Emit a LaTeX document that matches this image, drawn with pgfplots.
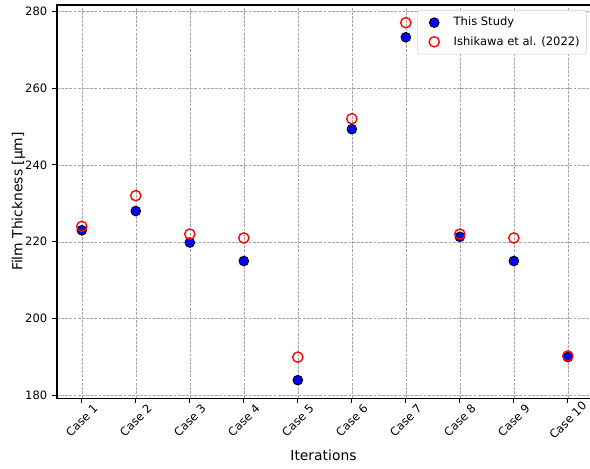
\documentclass[border=0pt]{standalone}
\usepackage{pgfplots}
\pgfplotsset{compat=1.18}
\usepackage{fontspec}
\setmainfont{DejaVu Sans}
\begin{document}
\begin{tikzpicture}
\begin{axis}[
  name=ax,
  scale only axis,
  width=383.8pt, height=283pt,
  xmin=0.54, xmax=10.41,
  ymin=179.35, ymax=281.6,
  xtick={1,2,3,4,5,6,7,8,9,10},
  xticklabels={Case 1,Case 2,Case 3,Case 4,Case 5,Case 6,Case 7,Case 8,Case 9,Case 10},
  ytick={180,200,220,240,260,280},
  /pgf/number format/assume math mode=true,
  tick label style={font=\fontsize{8.3}{10}\selectfont},
  xticklabel style={yshift=-12.5pt, rotate=45, anchor=center},
  axis line style={draw=none},
  tick style={draw=black, line width=0.6pt},
  tick align=outside,
  tick pos=left,
  major tick length=3.5pt,
  grid=major,
  major grid style={dash pattern=on 2pt off 1pt, gray!70, line width=0.4pt},
  axis on top,
  xlabel={Iterations},
  ylabel={Film Thickness [μm]},
  label style={font=\fontsize{10}{12}\selectfont},
  xlabel style={at={([yshift=-41pt]axis description cs:0.5,0)}, anchor=center},
  ylabel style={at={([xshift=-27.7pt]axis description cs:0,0.5)}, anchor=center},
  legend style={at={(1,1)}, xshift=-2.2pt, yshift=-3.6pt, anchor=north east, draw=gray!35, rounded corners=2pt, font=\fontsize{8.3}{10}\selectfont, row sep=2pt, inner xsep=3pt, inner ysep=3pt,
    /tikz/every even column/.append style={column sep=0pt}},
  legend image code/.code={\path[draw=none,fill=none] (-3pt,0pt) rectangle (18pt,0.1pt); \draw[#1] plot coordinates {(6pt,0pt)};},
  legend cell align=left,
]
\addplot[only marks, mark=*, mark size=3.5pt, mark options={fill=blue, draw=black, line width=0.6pt}]
coordinates {(1,223) (2,228) (3,219.8) (4,215) (5,184) (6,249.3) (7,273.2) (8,221.3) (9,215) (10,190)};
\addlegendentry{This Study}
\addplot[only marks, mark=o, mark size=3.7pt, mark options={draw=red, line width=1pt}]
coordinates {(1,224) (2,232) (3,222) (4,221) (5,190) (6,252) (7,277) (8,222) (9,221) (10,190.3)};
\addlegendentry{Ishikawa et al. (2022)}
\end{axis}
\draw[line width=0.8pt, line cap=rect] (ax.north east) -- (ax.north west) -- (ax.south west) -- (ax.south east);
\pgfresetboundingbox
\path ([xshift=-41pt,yshift=3.6pt]ax.north west) rectangle ([yshift=-50.4pt]ax.south east);
\end{tikzpicture}
\end{document}
